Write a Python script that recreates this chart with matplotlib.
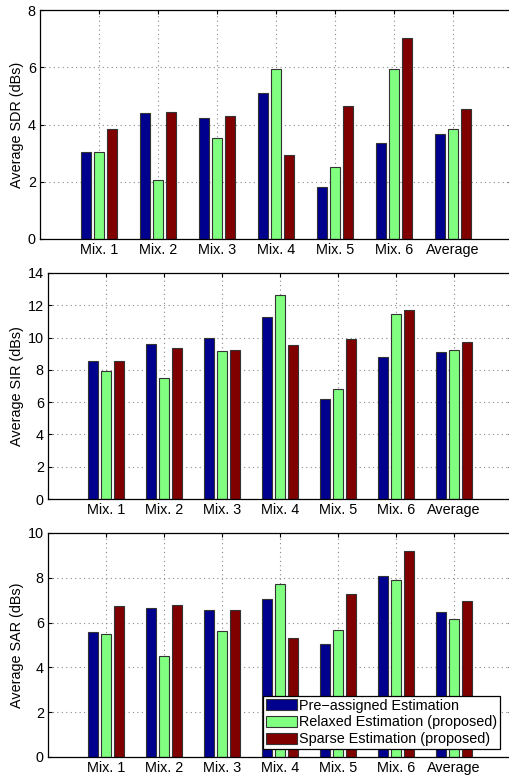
import numpy as np
import matplotlib
matplotlib.use('Agg')
import matplotlib.pyplot as plt

plt.rcParams['font.family'] = ['Liberation Sans', 'DejaVu Sans']

# Categories and series values (dB)
categories = ['Mix. 1', 'Mix. 2', 'Mix. 3', 'Mix. 4', 'Mix. 5', 'Mix. 6', 'Average']
series_names = ['Pre\u2212assigned Estimation',
                'Relaxed Estimation (proposed)',
                'Sparse Estimation (proposed)']

sdr_pre     = [3.05, 4.39, 4.23, 5.09, 1.82, 3.35, 3.66]
sdr_relaxed = [3.05, 2.05, 3.53, 5.94, 2.51, 5.93, 3.83]
sdr_sparse  = [3.83, 4.42, 4.28, 2.93, 4.63, 7.02, 4.54]

sir_pre     = [8.54, 9.59, 9.99, 11.29, 6.20, 8.79, 9.08]
sir_relaxed = [7.92, 7.51, 9.18, 12.66, 6.84, 11.43, 9.26]
sir_sparse  = [8.54, 9.35, 9.22, 9.51, 9.90, 11.68, 9.70]

sar_pre     = [5.57, 6.64, 6.56, 7.04, 5.04, 8.07, 6.47]
sar_relaxed = [5.48, 4.49, 5.64, 7.74, 5.67, 7.89, 6.15]
sar_sparse  = [6.73, 6.77, 6.56, 5.31, 7.28, 9.18, 6.98]

colors = ['#00008F', '#80FF80', '#800000']
fs = 10.4

# (ylabel, series, ymax, ystep, axes rect in figure fractions)
panels = [
    ('Average SDR (dBs)', [sdr_pre, sdr_relaxed, sdr_sparse], 8, 2,
     [40 / 510, 1 - 239 / 775, 472 / 510, 229 / 775]),
    ('Average SIR (dBs)', [sir_pre, sir_relaxed, sir_sparse], 14, 2,
     [48 / 510, 1 - 499 / 775, 464 / 510, 226 / 775]),
    ('Average SAR (dBs)', [sar_pre, sar_relaxed, sar_sparse], 10, 2,
     [48 / 510, 1 - 757 / 775, 464 / 510, 224 / 775]),
]

fig = plt.figure(figsize=(5.1, 7.75), dpi=100)

x = np.arange(1, len(categories) + 1)
step = 0.222   # matlab-like grouped bar spacing
width = 0.178

for i, (ylabel, data, ymax, ystep, rect) in enumerate(panels):
    ax = fig.add_axes(rect)
    for k, vals in enumerate(data):
        ax.bar(x + (k - 1) * step, vals, width=width, color=colors[k],
               edgecolor='#333333', linewidth=0.8, zorder=3,
               label=series_names[k])
    ax.set_xlim(0, 8)
    ax.set_ylim(0, ymax)
    ax.set_xticks(x)
    ax.set_xticklabels(categories, fontsize=fs)
    ax.set_yticks(np.arange(0, ymax + 0.1, ystep))
    ax.tick_params(axis='y', labelsize=fs)
    ax.tick_params(direction='in', top=True, right=True, length=3, width=0.8,
                   pad=3)
    ax.set_ylabel(ylabel, fontsize=fs, labelpad=3)
    ax.grid(True, linestyle=(0, (1, 3)), color='#888888', linewidth=0.8,
            zorder=0)
    ax.set_axisbelow(True)
    for s in ax.spines.values():
        s.set_linewidth(0.9)
        s.set_zorder(5)

    # legend only on the bottom panel
    if i == 2:
        leg = ax.legend(loc='lower right', bbox_to_anchor=(0.974, 0.036),
                        borderaxespad=0, fontsize=fs, fancybox=False,
                        edgecolor='black', framealpha=1,
                        handlelength=2.15, handleheight=0.8,
                        handletextpad=0.15, borderpad=0.2, labelspacing=0.18)
        leg.get_frame().set_linewidth(0.9)
        leg.set_zorder(10)

fig.savefig('out.png', dpi=100)
